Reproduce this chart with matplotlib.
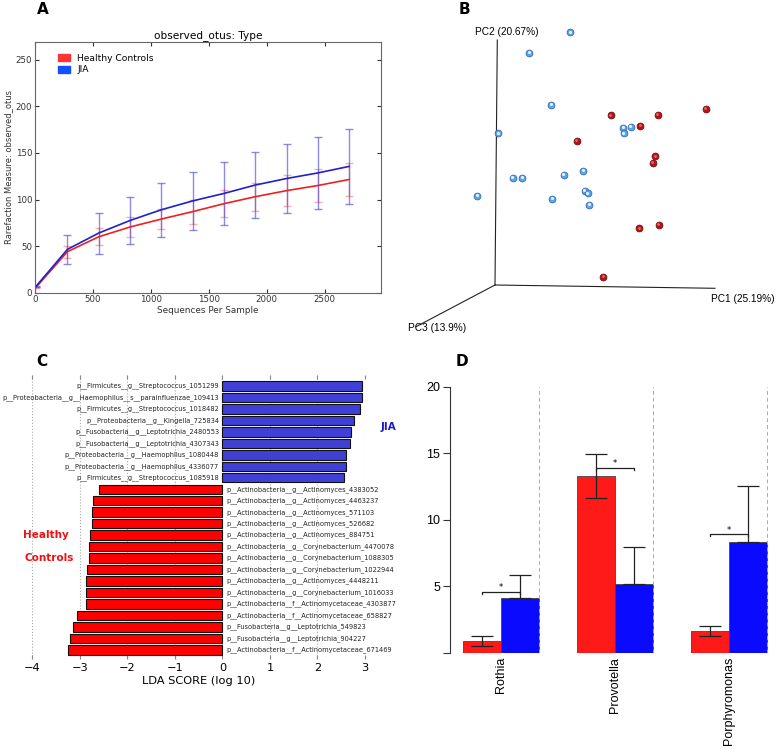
import matplotlib.pyplot as plt
import numpy as np
from matplotlib.patches import Patch

W, H = 778, 749

# panel A: rarefaction
depths = [10, 280, 550, 820, 1090, 1360, 1630, 1900, 2170, 2440, 2710]
hc_mean = [6, 44, 60, 70.5, 79, 87, 95.5, 103, 109.5, 115, 121.5]
hc_err = [0.5, 6.5, 9, 10.5, 11, 13, 14.5, 15, 16.5, 18, 17.5]
jia_mean = [7, 46.5, 64, 77.5, 89, 98.5, 106.5, 115.5, 122.5, 128.5, 135.5]
jia_err = [0.5, 15.5, 22, 25.5, 29, 31.5, 33.5, 35.5, 37.5, 38.5, 40.5]

# panel B: PCoA points, projected onto the page (origin = axes corner)
jia_px = [75.3, 34.3, 56.3, 3.3, 17.7, 27.3, -17.7, 69, 88.3, 89.7, 93, 57.3, 94.3, 128.3, 135.7, 129]
jia_py = [252.7, 232.3, 180.3, 151.7, 107, 107.3, 89, 110.3, 114, 94.3, 91.7, 86, 80.3, 157.3, 158, 151.7]
hc_px = [115.7, 163, 211, 145.3, 81.7, 160.3, 157.7, 144.3, 163.7, 108.3]
hc_py = [169.7, 170.3, 176, 159.3, 144.3, 128.7, 122.3, 56.7, 60, 8.3]
pc_labels = ['PC1 (25.19%)', 'PC2 (20.67%)', 'PC3 (13.9%)']

# panel C: LEfSe
lda_names = [
    'p__Firmicutes__g__Streptococcus_1051299',
    'p__Proteobacteria__g__Haemophilus__s__parainfluenzae_109413',
    'p__Firmicutes__g__Streptococcus_1018482',
    'p__Proteobacteria__g__Kingella_725834',
    'p__Fusobacteria__g__Leptotrichia_2480553',
    'p__Fusobacteria__g__Leptotrichia_4307343',
    'p__Proteobacteria__g__Haemophilus_1080448',
    'p__Proteobacteria__g__Haemophilus_4336077',
    'p__Firmicutes__g__Streptococcus_1085918',
    'p__Actinobacteria__g__Actinomyces_4383052',
    'p__Actinobacteria__g__Actinomyces_4463237',
    'p__Actinobacteria__g__Actinomyces_571103',
    'p__Actinobacteria__g__Actinomyces_526682',
    'p__Actinobacteria__g__Actinomyces_884751',
    'p__Actinobacteria__g__Corynebacterium_4470078',
    'p__Actinobacteria__g__Corynebacterium_1088305',
    'p__Actinobacteria__g__Corynebacterium_1022944',
    'p__Actinobacteria__g__Actinomyces_4448211',
    'p__Actinobacteria__g__Corynebacterium_1016033',
    'p__Actinobacteria__f__Actinomycetaceae_4303877',
    'p__Actinobacteria__f__Actinomycetaceae_658827',
    'p__Fusobacteria__g__Leptotrichia_549823',
    'p__Fusobacteria__g__Leptotrichia_904227',
    'p__Actinobacteria__f__Actinomycetaceae_671469',
]
lda_scores = [2.93, 2.93, 2.89, 2.77, 2.70, 2.68, 2.59, 2.59, 2.56,
              -2.59, -2.73, -2.74, -2.74, -2.79, -2.80, -2.80, -2.84, -2.86,
              -2.87, -2.88, -3.05, -3.15, -3.20, -3.25]

# panel D: relative abundance
genera = ['Rothia', 'Provotella', 'Porphyromonas']
hc_abund = [0.9, 13.3, 1.63]
hc_sd = [0.37, 1.65, 0.37]
jia_abund = [4.08, 5.16, 8.36]
jia_sd = [1.75, 2.8, 4.18]
sig_y = [4.58, 13.9, 8.89]


def box(x0, y0, x1, y1):
    # pixel box (top-left origin) -> figure fraction
    return [x0 / W, 1 - y1 / H, (x1 - x0) / W, (y1 - y0) / H]


def fig_text(fig, x, y, s, **kw):
    fig.text(x / W, 1 - y / H, s, ha='center', va='center', **kw)


fig = plt.figure(figsize=(W / 100, H / 100), dpi=100)

# ---------- A ----------
ax = fig.add_axes(box(35, 42, 380.5, 292.7))
red_a, blue_a = '#ee2020', '#2020cc'
ax.errorbar(depths, hc_mean, yerr=hc_err, color=red_a, ecolor=(0.95, 0.3, 0.3, 0.45),
            elinewidth=1, capsize=3, lw=1.2)
ax.errorbar(depths, jia_mean, yerr=jia_err, color=blue_a, ecolor=(0.25, 0.25, 0.85, 0.6),
            elinewidth=1, capsize=3, lw=1.2)
ax.set_xlim(0, 2981)
ax.set_ylim(0, 269)
ax.set_xticks([0, 500, 1000, 1500, 2000, 2500])
ax.set_yticks([0, 50, 100, 150, 200, 250])
ax.tick_params(direction='in', top=True, right=True, labelsize=6.2, length=3,
               colors='#333333', pad=2)
for sp in ax.spines.values():
    sp.set_color('#666666')
ax.set_title('observed_otus: Type', fontsize=7.6, pad=3)
ax.set_xlabel('Sequences Per Sample', fontsize=6.4, labelpad=1, color='#333333')
ax.set_ylabel('Rarefaction Measure: observed_otus', fontsize=6, labelpad=2, color='#333333')
ax.legend(handles=[Patch(color='#ff3333', label='Healthy Controls'),
                   Patch(color='#1050ff', label='JIA')],
          loc='upper left', frameon=False, fontsize=6.6, handlelength=1.3,
          handleheight=0.8, borderaxespad=0.6, labelspacing=0.3,
          bbox_to_anchor=(0.04, 0.99))

# ---------- B ----------
axb = fig.add_axes(box(390, 0, 778, 340))
axb.set_xlim(390 - 495, 778 - 495)
axb.set_ylim(285 - 340, 285)
axb.axis('off')
axb.plot([0, 220], [0, -3.3], color='#222222', lw=0.8)
axb.plot([0, 2.3], [0, 245], color='#222222', lw=0.8)
axb.plot([0, -79], [0, -41.7], color='#222222', lw=0.8)
axb.text(248, -14, pc_labels[0], fontsize=7.3, family='Liberation Sans', ha='center', va='center')
axb.text(11.7, 253, pc_labels[1], fontsize=7.3, family='Liberation Sans', ha='center', va='center')
axb.text(-58, -43, pc_labels[2], fontsize=7.3, family='Liberation Sans', ha='center', va='center')
axb.scatter(jia_px, jia_py, s=24, c='#5ea4e6', edgecolors='#2c6fb8', linewidths=0.6, zorder=3)
axb.scatter(np.array(jia_px) - 0.6, np.array(jia_py) + 0.6, s=5, c='#e6f2ff', linewidths=0, zorder=4)
axb.scatter(hc_px, hc_py, s=24, c='#b3141a', edgecolors='#7a0a0e', linewidths=0.6, zorder=3)
axb.scatter(np.array(hc_px) - 0.6, np.array(hc_py) + 0.6, s=4, c='#e36a6a', linewidths=0, zorder=4)

# ---------- C ----------
axc = fig.add_axes(box(32.3, 375, 365, 659))
rows = np.arange(len(lda_scores))
cols = ['#4040d6' if v > 0 else '#ff0000' for v in lda_scores]
axc.barh(rows, lda_scores, height=0.82, color=cols, edgecolor='#111111', linewidth=0.8, zorder=2)
for r, name, v in zip(rows, lda_names, lda_scores):
    if v > 0:
        axc.text(-0.07, r, name, ha='right', va='center', fontsize=4.75, color='#222222', zorder=3)
    else:
        axc.text(0.08, r, name, ha='left', va='center', fontsize=4.75, color='#222222', zorder=3)
axc.set_xlim(-4, 3)
axc.set_ylim(23.8, -0.96)
axc.set_xticks(range(-4, 4))
axc.set_xticklabels([str(t).replace('-', '\u2212') for t in range(-4, 4)])
axc.set_yticks([])
axc.xaxis.grid(True, linestyle=':', color='#aaaaaa', lw=0.8, zorder=0)
axc.set_axisbelow(True)
for sp in axc.spines.values():
    sp.set_visible(False)
axc.tick_params(axis='x', direction='in', top=True, length=3, labelsize=8.2, color='#888888', pad=3)
axc.set_xlabel('LDA SCORE (log 10)', fontsize=8.2, labelpad=2)
fig_text(fig, 388, 427, 'JIA', fontsize=7.5, fontweight='bold', color='#1a1acc')
fig_text(fig, 46, 535, 'Healthy', fontsize=7.5, fontweight='bold', color='#ee1111')
fig_text(fig, 49, 558, 'Controls', fontsize=7.5, fontweight='bold', color='#ee1111')

# ---------- D ----------
axd = fig.add_axes(box(450, 386.7, 770.5, 652.7))
g = np.arange(len(genera)) * 3
red_x = g + 0.5
blue_x = g + 1.5
axd.bar(red_x, hc_abund, width=1, color='#ff1a1a', edgecolor='#444444', linewidth=0.6, zorder=2)
axd.bar(blue_x, jia_abund, width=1, color='#0a0aff', edgecolor='#444444', linewidth=0.6, zorder=2)
axd.errorbar(red_x, hc_abund, yerr=hc_sd, fmt='none', ecolor='#222222', elinewidth=0.9,
             capsize=8, capthick=0.9, zorder=3)
axd.errorbar(blue_x, jia_abund, yerr=[np.zeros(len(jia_sd)), jia_sd], fmt='none',
             ecolor='#222222', elinewidth=0.9, capsize=8, capthick=0.9, zorder=3)
for gx in g:
    axd.axvline(gx + 2, color='#aaaaaa', ls=(0, (4, 3)), lw=0.7, zorder=4)
for rx, bx, y in zip(red_x, blue_x, sig_y):
    axd.plot([rx, rx, bx, bx], [y - 0.15, y, y, y - 0.15], color='#222222', lw=0.9, zorder=3)
    axd.text((rx + bx) / 2, y - 0.05, '*', ha='center', va='bottom', fontsize=6, zorder=3)
axd.set_xlim(-0.33, 8.1)
axd.set_ylim(0, 20)
axd.set_yticks([0, 5, 10, 15, 20])
axd.set_yticklabels(['', '5', '10', '15', '20'], family='Liberation Sans')
axd.set_xticks(g + 1)
axd.set_xticklabels(genera, rotation=90, family='Liberation Sans', fontsize=9)
axd.tick_params(axis='x', length=0, pad=3)
axd.tick_params(axis='y', direction='out', length=5, labelsize=9, pad=2, color='#333333')
for s in ['top', 'right', 'bottom']:
    axd.spines[s].set_visible(False)
axd.spines['left'].set_color('#333333')

# panel letters
for ch, x, y in [('A', 43, 9), ('B', 464, 9), ('C', 42, 362), ('D', 462, 362)]:
    fig_text(fig, x, y, ch, fontsize=11, fontweight='bold')

fig.savefig('out.png', dpi=100)
